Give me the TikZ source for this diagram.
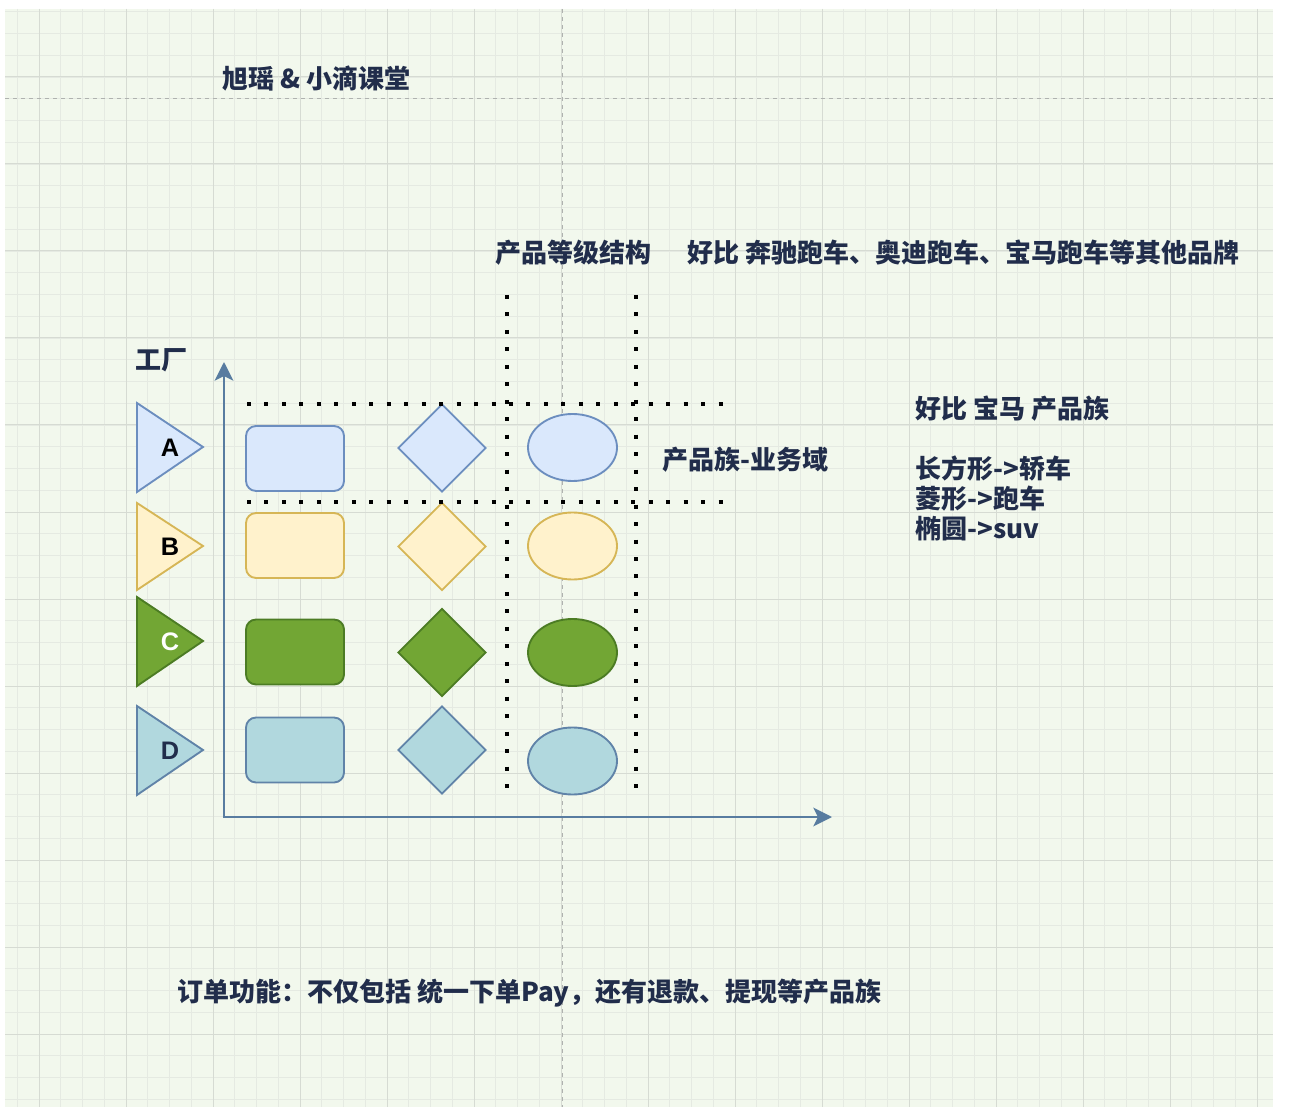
\documentclass[tikz,border=0pt]{standalone}
\usepackage{fontspec}
\setmainfont{Noto Sans CJK SC}
\newfontfamily\latfont{Liberation Sans}
\usetikzlibrary{shapes.geometric,arrows.meta}
\definecolor{bg}{RGB}{242,248,237}
\definecolor{gminor}{RGB}{229,234,226}
\definecolor{gmajor}{RGB}{214,219,211}
\definecolor{pgline}{RGB}{175,178,175}
\definecolor{ink}{RGB}{33,45,75}
\definecolor{axisblue}{RGB}{88,124,160}
\definecolor{blueF}{RGB}{218,232,252}
\definecolor{blueD}{RGB}{108,142,191}
\definecolor{yelF}{RGB}{255,242,204}
\definecolor{yelD}{RGB}{214,182,86}
\definecolor{grnF}{RGB}{114,166,52}
\definecolor{grnD}{RGB}{76,124,36}
\definecolor{tealF}{RGB}{177,216,222}
\definecolor{tealD}{RGB}{96,131,168}
\def\px{0.75pt}
\begin{document}
\begin{tikzpicture}[x=0.75pt,y=-0.75pt,
  txt/.style={text=ink, font=\bfseries\fontsize{19.5}{23}\selectfont, inner sep=0pt, anchor=west},
  lbl/.style={font=\latfont\bfseries\fontsize{19}{22}\selectfont, inner sep=0pt},
  shp/.style={line width=1.4pt, inner sep=0pt},
  rbox/.style={shp, draw, rectangle, rounded corners=7.5pt, minimum width=98*\px, minimum height=65*\px},
  dia/.style={shp, draw, diamond, minimum width=88*\px, minimum height=88*\px},
  ell/.style={shp, draw, ellipse, minimum width=89*\px, minimum height=67*\px},
  tri/.style={shp, draw, line join=miter},
  sA/.style={fill=blueF, draw=blueD},
  sB/.style={fill=yelF, draw=yelD},
  sC/.style={fill=grnF, draw=grnD},
  sD/.style={fill=tealF, draw=tealD},
  dotline/.style={line width=3pt, line cap=butt, dash pattern=on 3pt off 10.1pt},
  axisline/.style={draw=axisblue, line width=1.8pt, line join=miter},
  minorg/.style={draw=gminor, line width=0.6pt},
  majorg/.style={draw=gmajor, line width=0.75pt},
  pgbreak/.style={draw=pgline, line width=0.6pt, dash pattern=on 3pt off 3pt}
]
\useasboundingbox (0,0) rectangle (1290,1116);
\fill[white] (0,0) rectangle (1290,1116);
\fill[bg] (5,9) rectangle (1273,1107);
\begin{scope}
\clip (5,9) rectangle (1273,1107);
\foreach \i in {0,...,57} \draw[minorg] ({17.25+21.75*\i},9) -- ({17.25+21.75*\i},1107);
\foreach \i in {0,...,50} \draw[minorg] (5,{11.75+21.75*\i}) -- (1273,{11.75+21.75*\i});
\foreach \i in {0,...,14} \draw[majorg] ({39+87*\i},9) -- ({39+87*\i},1107);
\foreach \i in {0,...,11} \draw[majorg] (5,{77+87*\i}) -- (1273,{77+87*\i});
\end{scope}
\draw[pgbreak] (5,98) -- (1273,98);
\draw[pgbreak] (562,9) -- (562,1107);

% texts
\node[txt] (title) at (222,79) {旭瑶 \& 小滴课堂};
\node[txt] (fac) at (135,360) {工厂};
\node[txt] (grade) at (495,253) {产品等级结构};
\node[txt] (eg1) at (687,253) {好比 奔驰跑车、奥迪跑车、宝马跑车等其他品牌};
\node[txt] (dom) at (662,460) {产品族-业务域};
\node[txt] (eg2) at (915,409) {好比 宝马 产品族};
\node[txt] (l1) at (915,469) {长方形->轿车};
\node[txt] (l2) at (915,499) {菱形->跑车};
\node[txt] (l3) at (915,529) {椭圆->suv};
\node[txt] (order) at (177,993) {订单功能：不仅包括 统一下单Pay，还有退款、提现等产品族};

% axes
\coordinate (ytip) at (224,362);
\coordinate (orig) at (224,817);
\coordinate (xtip) at (832,817);
\draw[axisline, {Stealth[length=14pt,width=14pt,inset=3.5pt]}-{Stealth[length=14pt,width=14pt,inset=3.5pt]}] (ytip) -- (orig) -- (xtip);

% triangles (factories)
\filldraw[tri, sA] (137,403) -- (203,447) -- (137,492) -- cycle;
\filldraw[tri, sB] (137,503) -- (203,546) -- (137,590) -- cycle;
\filldraw[tri, sC] (137,597) -- (203,641) -- (137,686) -- cycle;
\filldraw[tri, sD] (137,706) -- (203,750) -- (137,795) -- cycle;
\node[lbl, text=black] (tA) at (170,448) {A};
\node[lbl, text=black] (tB) at (170,547) {B};
\node[lbl, text=white] (tC) at (170,642) {C};
\node[lbl, text=ink] (tD) at (170,751) {D};

% rectangles
\node[rbox, sA] (rA) at (295,458.5) {};
\node[rbox, sB] (rB) at (295,545.5) {};
\node[rbox, sC] (rC) at (295,652) {};
\node[rbox, sD] (rD) at (295,750) {};

% diamonds
\node[dia, sA] (dA) at (442,448) {};
\node[dia, sB] (dB) at (442,546.5) {};
\node[dia, sC] (dC) at (442,652.5) {};
\node[dia, sD] (dD) at (442,750) {};

% ellipses
\node[ell, sA] (eA) at (572.5,447.5) {};
\node[ell, sB] (eB) at (572.5,546) {};
\node[ell, sC] (eC) at (572.5,652.5) {};
\node[ell, sD] (eD) at (572.5,761) {};

% dotted guide lines
\coordinate (v1a) at (507,295);
\coordinate (v1b) at (507,788);
\coordinate (v2a) at (636,295);
\coordinate (v2b) at (636,788);
\coordinate (h1a) at (247,404);
\coordinate (h1b) at (723,404);
\coordinate (h2a) at (247,502);
\coordinate (h2b) at (723,502);
\draw[dotline] (v1a) -- (v1b);
\draw[dotline] (v2a) -- (v2b);
\draw[dotline] (h1a) -- (h1b);
\draw[dotline] (h2a) -- (h2b);
\end{tikzpicture}
\end{document}
